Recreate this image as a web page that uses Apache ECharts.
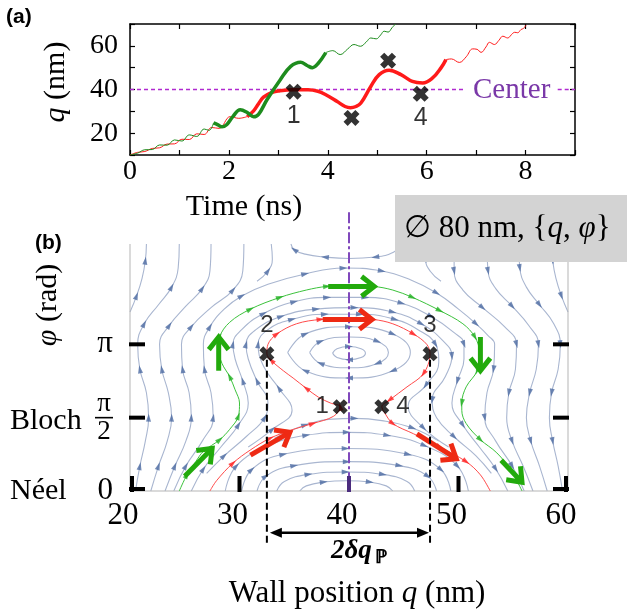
<!DOCTYPE html>
<html><head><meta charset="utf-8">
<script src="https://cdn.jsdelivr.net/npm/echarts@6/dist/echarts.min.js"></script>
<style>html,body{margin:0;padding:0;background:#fff}#c{width:627px;height:614px}</style>
</head><body><div id="c"></div>
<script>
// ================= Panel (a): time (ns) vs q (nm) =================
const xTicksA = [0, 2, 4, 6, 8];
const yTicksA = [20, 40, 60];
const centerQ = 40;
const redThinA = [[0,10.0],[0.15,11.2],[0.3,11.6],[0.45,13.0],[0.6,13.3],[0.75,15.0],[0.9,15.1],[1.05,17.2],[1.2,17.1],[1.35,19.7],[1.5,19.4],[1.65,22.6],[1.8,22.2],[2.03,27.6],[2.2,26.8],[2.37,27.6]];
const redThickA = [[2.37,27.6],[2.5,30.2],[2.6,33.5],[2.7,36.5],[2.85,38.5],[3.0,39.3],[3.3,39.9],[3.6,39.9],[3.8,39.2],[3.96,37.6],[4.19,34.5],[4.35,32.2],[4.46,31.6],[4.57,32.2],[4.67,33.8],[4.87,41.4],[5.04,46.8],[5.24,48.8],[5.48,46.8],[5.71,43.7],[5.92,43.0],[6.12,45.3],[6.29,49.9],[6.39,53.7]];
const redThin2A = [[6.39,53.7],[6.5,54.0],[6.66,52.4],[6.8,55.0],[6.93,58.6],[7.02,58.4],[7.1,57.0],[7.2,59.5],[7.27,61.6],[7.37,60.6],[7.46,62.5],[7.54,64.4],[7.64,63.6],[7.71,65.0],[7.78,66.2],[7.84,66.0],[7.91,67.5],[7.96,68.0],[8.01,69.5]];
const greenThinA = [[0,10.0],[0.15,10.8],[0.3,12.4],[0.45,12.5],[0.6,14.6],[0.75,14.5],[0.9,16.9],[1.05,16.4],[1.2,19.2],[1.35,18.5],[1.5,21.9],[1.6,21.3],[1.69,24.7]];
const greenThickA = [[1.69,24.7],[1.78,23.8],[1.86,22.9],[1.96,24.0],[2.08,27.6],[2.23,30.7],[2.38,29.3],[2.5,27.5],[2.6,28.6],[2.77,35.3],[3.04,44.5],[3.25,50.6],[3.45,52.5],[3.58,51.0],[3.69,50.0],[3.8,51.8],[3.96,56.9]];
const greenThin2A = [[3.96,56.9],[4.1,57.8],[4.25,56.0],[4.4,58.5],[4.53,60.6],[4.66,59.8],[4.78,61.8],[4.87,63.6],[4.98,63.2],[5.07,65.0],[5.14,66.7],[5.22,66.3],[5.3,68.3],[5.37,70.0]];
const centerSegA = [[0, 6.75], [8.65, 9]];
const crossesA = [[3.31,39.0],[4.48,27.0],[5.22,53.2],[5.88,38.0]];
const crossLabelsA = ['1', '', '', '4'];

// ================= Panel (b): wall position q (nm) vs phi (units of pi) =================
const xTicksB = [20, 30, 40, 50, 60];
const yTicksB = [0, 0.5, 1];
// streamlines (points in flow order)
const La = [[20.0,1.22],[20.6,1.33],[21.1,1.45],[21.4,1.57],[21.5,1.684]];
const L1 = [[20.5,0],[20.9,0.17],[21.4,0.34],[21.7,0.5],[21.5,0.67],[20.9,0.83],[20.7,1.0],[21.3,1.14],[22.6,1.27],[23.8,1.39],[24.4,1.52],[24.5,1.684]];
const L2 = [[21.9,0],[22.6,0.17],[23.4,0.34],[23.8,0.5],[23.5,0.67],[22.9,0.83],[22.7,1.0],[23.6,1.13],[25.1,1.26],[26.6,1.38],[27.3,1.5],[27.4,1.684]];
const L3 = [[23.2,0],[24.1,0.17],[25.1,0.34],[25.6,0.5],[25.4,0.67],[24.8,0.83],[24.7,1.0],[25.6,1.12],[27.4,1.25],[29.4,1.37],[30.3,1.5],[30.4,1.684]];
const L4 = [[24.0,0],[25.1,0.17],[26.6,0.34],[27.6,0.5],[27.4,0.67],[26.8,0.83],[26.7,1.0],[27.3,1.12],[28.6,1.24],[30.2,1.33],[32.6,1.41],[36.0,1.48],[39.5,1.52],[43.0,1.50],[45.6,1.44],[48.0,1.35],[50.0,1.24],[51.6,1.14],[52.7,1.06],[53.3,1.0],[53.2,0.83],[52.6,0.67],[52.4,0.5],[53.4,0.34],[54.9,0.17],[56.0,0]];
const Lt = [[31.6,1.43],[32.6,1.5],[33.0,1.58],[32.9,1.684]];
const Rt = [[47.1,1.684],[47.0,1.58],[47.4,1.5],[48.4,1.43]];
const Ra = [[58.5,1.684],[58.6,1.57],[58.9,1.45],[59.4,1.33],[60.0,1.22]];
const R1 = [[55.5,1.684],[55.6,1.52],[56.2,1.39],[57.4,1.27],[58.7,1.14],[59.3,1.0],[59.1,0.83],[58.5,0.67],[58.3,0.5],[58.6,0.34],[59.1,0.17],[59.5,0]];
const R2 = [[52.6,1.684],[52.7,1.5],[53.4,1.38],[54.9,1.26],[56.4,1.13],[57.3,1.0],[57.1,0.83],[56.5,0.67],[56.2,0.5],[56.6,0.34],[57.4,0.17],[58.1,0]];
const R3 = [[49.6,1.684],[49.6,1.5],[50.4,1.37],[52.2,1.25],[54.2,1.12],[55.3,1.0],[55.2,0.83],[54.6,0.67],[54.4,0.5],[54.9,0.34],[55.9,0.17],[56.8,0]];
const O1 = [[25.6,0],[26.7,0.15],[28.3,0.3],[29.9,0.45],[30.8,0.6],[30.3,0.75],[29.6,0.9],[29.4,1.0],[30.2,1.1],[32.2,1.21],[35.0,1.29],[38.0,1.32],[41.5,1.32],[44.8,1.28],[47.5,1.19],[49.6,1.08],[50.5,1.0],[50.5,0.9],[49.9,0.75],[49.4,0.6],[50.4,0.45],[51.9,0.3],[53.4,0.15],[54.5,0]];
const O2 = [[27.0,0.12],[28.6,0.24],[30.6,0.37],[32.3,0.5],[32.6,0.6],[31.6,0.75],[30.8,0.9],[30.6,1.0],[31.5,1.1],[33.8,1.19],[37.0,1.24],[40.5,1.25],[44.0,1.22],[46.6,1.14],[48.5,1.03],[49.4,0.92],[48.8,0.78],[47.6,0.62],[48.0,0.5],[49.6,0.37],[51.6,0.24],[53.0,0.12]];
const O3 = [[30.8,0.3],[33.0,0.42],[34.8,0.55],[33.6,0.7],[32.2,0.85],[31.7,1.0],[32.6,1.1],[34.8,1.17],[37.8,1.205],[41.0,1.205],[44.2,1.17],[46.3,1.1],[47.9,1.0],[48.2,0.88],[47.0,0.72],[45.4,0.58],[46.8,0.43],[49.1,0.3]];
const TU = [[44.7,1.684],[44.1,1.63],[42.4,1.595],[40.0,1.585],[37.8,1.595],[36.0,1.615],[35.0,1.645],[34.7,1.684]];
const B1 = [[35.5,0],[36.1,0.035],[37.7,0.061],[39.8,0.07],[41.9,0.061],[43.4,0.035],[44.0,0]];
const B2 = [[33.4,0],[34.1,0.065],[36.3,0.113],[39.7,0.13],[43.1,0.113],[45.3,0.065],[46.0,0]];
const B3 = [[31.6,0],[32.4,0.10],[35.0,0.173],[39.8,0.20],[44.6,0.173],[47.2,0.10],[48.0,0]];
const B4 = [[30.2,0],[31.1,0.145],[34.0,0.25],[39.7,0.29],[45.4,0.25],[48.4,0.145],[49.3,0]];
const B5 = [[28.7,0],[29.7,0.17],[32.7,0.31],[36.1,0.38],[39.8,0.40],[43.5,0.38],[46.9,0.31],[49.9,0.17],[50.9,0]];
const B6 = [[33.2,0.36],[36.0,0.45],[38.5,0.49],[40.5,0.495],[43.0,0.48],[45.8,0.43],[48.2,0.34]];
const Ring1 = [[38.5,0.94],[38.9,0.97],[40.0,0.985],[41.1,0.97],[41.5,0.94],[41.1,0.91],[40.0,0.895],[38.9,0.91],[38.5,0.94]];
const Ring2 = [[36.4,0.945],[37.4,1.02],[40.0,1.05],[42.6,1.02],[43.6,0.945],[42.6,0.87],[40.0,0.84],[37.4,0.87],[36.4,0.945]];
const Ring3 = [[34.4,0.945],[36.0,1.07],[40.0,1.12],[44.0,1.07],[45.6,0.945],[44.0,0.82],[40.0,0.77],[36.0,0.82],[34.4,0.945]];
const streamLines = [La, L1, L2, L3, L4, Lt, Rt, Ra, R1, R2, R3, O1, O2, O3, TU, B1, B2, B3, B4, B5, B6, Ring1, Ring2, Ring3];

// trajectories
const redB = [[27.3,0],[27.9,0.07],[29.4,0.19],[31.0,0.28],[32.8,0.36],[34.9,0.42],[36.7,0.46],[38.6,0.51],[39.2,0.575],[38.3,0.6],[37.2,0.64],[36.1,0.7],[34.9,0.77],[34.0,0.82],[32.9,0.89],[32.5,0.935],[32.6,1.0],[33.4,1.07],[35.2,1.14],[37.4,1.17],[40.0,1.18],[42.2,1.17],[44.0,1.14],[45.9,1.07],[47.1,1.0],[47.4,0.935],[46.8,0.8],[45.3,0.71],[43.7,0.62],[43.0,0.575],[43.2,0.54],[44.0,0.46],[45.9,0.39],[48.3,0.30],[50.7,0.2],[52.0,0.11],[52.9,0]];
const greenB = [[24.5,0],[25.2,0.11],[26.0,0.2],[26.7,0.27],[28.2,0.35],[29.1,0.42],[29.9,0.51],[30.0,0.6],[29.6,0.69],[29.1,0.78],[28.4,0.87],[28.1,0.96],[28.2,1.05],[29.1,1.15],[31.0,1.24],[33.7,1.32],[36.1,1.37],[38.0,1.395],[40.0,1.40],[42.2,1.395],[44.0,1.37],[45.8,1.32],[48.3,1.23],[50.4,1.14],[51.5,1.05],[51.9,0.95],[51.7,0.82],[50.7,0.71],[50.3,0.6],[50.3,0.55],[50.7,0.46],[52.0,0.35],[53.5,0.26],[54.8,0.14],[55.8,0]];
// big arrows [q1, p1, q2, p2]
const bigArrowsGreen = [[25.0,0.10,27.5,0.29],[28.1,0.82,28.1,1.05],[38.1,1.395,42.3,1.395],[52.0,1.05,52.0,0.82],[53.9,0.21,55.8,0.06]];
const bigArrowsRed = [[31.0,0.245,34.6,0.40],[37.6,1.17,42.1,1.17],[46.2,0.39,49.8,0.22]];
const crossesB = [[39.2,0.575],[32.5,0.935],[47.4,0.935],[43.0,0.575]];
const crossLabelsB = ['1', '2', '3', '4'];
const dashQ = [32.5, 47.4];
const dashTopP = 0.935, dashBottomP = -0.37, spanArrowP = -0.284;
const centerLineTopP = 1.9;

// ================= chart =================
const SERIF = "'Liberation Serif','Times New Roman',serif";
const SANS = "'Liberation Sans',Arial,sans-serif";
const chart = echarts.init(document.getElementById('c'), null, {renderer: 'canvas'});
const CROSS = 'path://M0,2.6 L2.6,0 L5,2.4 L7.4,0 L10,2.6 L7.6,5 L10,7.4 L7.4,10 L5,7.6 L2.6,10 L0,7.4 L2.4,5 Z';
const STREAM_COLOR = '#a9b6d0', STREAM_ARROW = '#4e6ca3';

const axA = {axisLine: {onZero: false, lineStyle: {color: '#000', width: 1.5}}, axisTick: {inside: true, length: 5, lineStyle: {color: '#000', width: 1.2}}, splitLine: {show: false}};

function lineSer(data, color, width, z, smooth, ax) {
  return {type: 'line', xAxisIndex: ax, yAxisIndex: ax, data: data, smooth: smooth, symbol: 'none', showSymbol: false,
    lineStyle: {color: color, width: width}, silent: true, z: z, animation: false};
}

function bigArrowRender(color) {
  return function (params, api) {
    const a = api.coord([api.value(0), api.value(1)]);
    const b = api.coord([api.value(2), api.value(3)]);
    const dx = b[0] - a[0], dy = b[1] - a[1], L = Math.hypot(dx, dy);
    const bx = -dx / L, by = -dy / L, hl = 16, ang = 38 * Math.PI / 180;
    const c = Math.cos(ang), s = Math.sin(ang);
    const l1 = [b[0] + hl * (bx * c - by * s), b[1] + hl * (bx * s + by * c)];
    const l2 = [b[0] + hl * (bx * c + by * s), b[1] + hl * (-bx * s + by * c)];
    return {type: 'group', children: [
      {type: 'polyline', shape: {points: [a, b]}, style: {stroke: color, lineWidth: 5, fill: null}},
      {type: 'polyline', shape: {points: [l1, b, l2]}, style: {stroke: color, lineWidth: 5, fill: null, lineJoin: 'miter'}}
    ]};
  };
}

const series = [];
// ---- panel (a)
series.push(lineSer(redThinA, '#ff1a1a', 1, 3, 0.4, 0));
series.push(lineSer(redThickA, '#ff1a1a', 3.5, 3, 0.4, 0));
series.push(lineSer(redThin2A, '#ff1a1a', 1, 3, 0.4, 0));
series.push(lineSer(greenThinA, '#1e8c1e', 1, 4, 0.4, 0));
series.push(lineSer(greenThickA, '#1e8c1e', 3.5, 4, 0.4, 0));
series.push(lineSer(greenThin2A, '#1e8c1e', 1, 4, 0.4, 0));
centerSegA.forEach(function (seg) {
  const s = lineSer([[seg[0], centerQ], [seg[1], centerQ]], '#b02ad0', 1.4, 2, false, 0);
  s.lineStyle.type = [4, 3];
  series.push(s);
});
series.push({type: 'scatter', xAxisIndex: 0, yAxisIndex: 0, symbol: CROSS, symbolSize: 16, z: 6, silent: true,
  itemStyle: {color: '#000'},
  data: crossesA.map(function (p, i) { return {value: p, label: {show: !!crossLabelsA[i], formatter: crossLabelsA[i], position: 'bottom', distance: 4}}; }),
  label: {fontFamily: SANS, fontSize: 25, color: '#000'}});

// ---- panel (b)
streamLines.forEach(function (l) { series.push(lineSer(l, STREAM_COLOR, 1.1, 1, 0.45, 2)); });
series.push(lineSer(redB, '#ff4a4a', 1, 3, 0.35, 2));
series.push(lineSer(greenB, '#3cc23c', 1, 3, 0.35, 2));
// frame (gray)
series.push({type: 'custom', xAxisIndex: 2, yAxisIndex: 2, clip: false, silent: true, z: 2, data: [[0]],
  renderItem: function (params, api) {
    const bl = api.coord([20, 0]), tl = api.coord([20, 1.684]), br = api.coord([60, 0]), tr = api.coord([60, 1.684]);
    return {type: 'polyline', shape: {points: [tl, bl, br, tr]}, style: {stroke: '#b5b5b5', lineWidth: 1, fill: null}};
  }});
// purple center line
series.push({type: 'custom', xAxisIndex: 2, yAxisIndex: 2, clip: false, silent: true, z: 5, data: [[centerQ]],
  renderItem: function (params, api) {
    const a = api.coord([api.value(0), centerLineTopP]), b = api.coord([api.value(0), 0]);
    return {type: 'line', shape: {x1: a[0], y1: a[1], x2: b[0], y2: b[1]}, style: {stroke: '#8048bc', lineWidth: 2, lineDash: [11, 3, 3, 3]}};
  }});
// big arrows
series.push({type: 'custom', xAxisIndex: 2, yAxisIndex: 2, clip: false, silent: true, z: 6, data: bigArrowsGreen, renderItem: bigArrowRender('#22aa0c')});
series.push({type: 'custom', xAxisIndex: 2, yAxisIndex: 2, clip: false, silent: true, z: 6, data: bigArrowsRed, renderItem: bigArrowRender('#ee2a14')});
// thick ticks
series.push({type: 'custom', xAxisIndex: 2, yAxisIndex: 2, clip: false, silent: true, z: 6, data: yTicksB.map(function (v) { return [20, v]; }),
  renderItem: function (params, api) {
    const p = api.value(1), a = api.coord([20, p]), b = api.coord([60, p]);
    return {type: 'group', children: [
      {type: 'line', shape: {x1: a[0] - 1, y1: a[1] - (p === 0 ? 2 : 0), x2: a[0] + 15, y2: a[1] - (p === 0 ? 2 : 0)}, style: {stroke: '#000', lineWidth: 4}},
      {type: 'line', shape: {x1: b[0] + 1, y1: b[1] - (p === 0 ? 2 : 0), x2: b[0] - 15, y2: b[1] - (p === 0 ? 2 : 0)}, style: {stroke: '#000', lineWidth: 4}}
    ]};
  }});
series.push({type: 'custom', xAxisIndex: 2, yAxisIndex: 2, clip: false, silent: true, z: 6, data: xTicksB.map(function (v) { return [v, 0]; }),
  renderItem: function (params, api) {
    const q = api.value(0), a = api.coord([q, 0]);
    const off = q === 20 ? 2 : (q === 60 ? -2 : 0);
    return {type: 'line', shape: {x1: a[0] + off, y1: a[1] + 1, x2: a[0] + off, y2: a[1] - 15}, style: {stroke: q === centerQ ? '#4b2c7e' : '#000', lineWidth: 4}};
  }});
// dashed verticals + span arrow
series.push({type: 'custom', xAxisIndex: 2, yAxisIndex: 2, clip: false, silent: true, z: 6, data: [[dashQ[0], dashQ[1]]],
  renderItem: function (params, api) {
    const q1 = api.value(0), q2 = api.value(1);
    const a1 = api.coord([q1, dashTopP]), b1 = api.coord([q1, dashBottomP]);
    const a2 = api.coord([q2, dashTopP]), b2 = api.coord([q2, dashBottomP]);
    const s1 = api.coord([q1, spanArrowP]), s2 = api.coord([q2, spanArrowP]);
    const y = s1[1], x1 = s1[0] + 3, x2 = s2[0] - 1, hl = 12, hw = 5;
    return {type: 'group', children: [
      {type: 'line', shape: {x1: a1[0], y1: a1[1] + 6, x2: b1[0], y2: b1[1]}, style: {stroke: '#000', lineWidth: 2, lineDash: [7, 4]}},
      {type: 'line', shape: {x1: a2[0], y1: a2[1] + 6, x2: b2[0], y2: b2[1]}, style: {stroke: '#000', lineWidth: 2, lineDash: [7, 4]}},
      {type: 'line', shape: {x1: x1 + hl - 2, y1: y, x2: x2 - hl + 2, y2: y}, style: {stroke: '#000', lineWidth: 2.5}},
      {type: 'polygon', shape: {points: [[x1, y], [x1 + hl, y - hw], [x1 + hl, y + hw]]}, style: {fill: '#000'}},
      {type: 'polygon', shape: {points: [[x2, y], [x2 - hl, y - hw], [x2 - hl, y + hw]]}, style: {fill: '#000'}}
    ]};
  }});
const labelPos = ['left', 'top', 'top', 'right'];
const labelDist = [4, 9, 9, 7];
series.push({type: 'scatter', xAxisIndex: 2, yAxisIndex: 2, symbol: CROSS, symbolSize: 15, z: 8, silent: true,
  itemStyle: {color: '#000'},
  data: crossesB.map(function (p, i) { return {value: p, label: {show: true, formatter: crossLabelsB[i], position: labelPos[i], distance: labelDist[i]}}; }),
  label: {fontFamily: SANS, fontSize: 24, color: '#000'}});

const option = {
  animation: false,
  backgroundColor: '#fff',
  grid: [
    {left: 130, top: 24, width: 445, height: 131, show: false},
    {left: 130, top: 244, width: 438, height: 247, show: false}
  ],
  xAxis: [
    Object.assign({gridIndex: 0, type: 'value', min: 0, max: 9, interval: 1, position: 'bottom',
      axisLabel: {formatter: function (v) { return xTicksA.indexOf(v) >= 0 ? String(v) : ''; }, fontFamily: SERIF, fontSize: 28, color: '#000', margin: 3}}, axA),
    Object.assign({gridIndex: 0, type: 'value', min: 0, max: 9, interval: 1, position: 'top', axisLabel: {show: false}}, axA),
    {gridIndex: 1, type: 'value', min: 20, max: 60, interval: 10, axisLine: {show: false}, axisTick: {show: false}, splitLine: {show: false},
      axisLabel: {fontFamily: SERIF, fontSize: 31, color: '#000', margin: 9,
        formatter: function (v) { return xTicksB.indexOf(v) >= 0 ? '{s|' + v + '}' : ''; },
        rich: {s: {fontFamily: SERIF, fontSize: 31, color: '#000', padding: [0, 14, 0, 0]}}}}
  ],
  yAxis: [
    Object.assign({gridIndex: 0, type: 'value', min: 10, max: 70, interval: 10,
      axisLabel: {formatter: function (v) { return yTicksA.indexOf(v) >= 0 ? String(v) : ''; }, fontFamily: SERIF, fontSize: 28, color: '#000', margin: 12}}, axA),
    Object.assign({gridIndex: 0, type: 'value', min: 10, max: 70, interval: 10, position: 'right', axisLabel: {show: false}}, axA),
    {gridIndex: 1, type: 'value', min: 0, max: 1.684, interval: 0.5, axisLine: {show: false}, axisTick: {show: false}, splitLine: {show: false},
      axisLabel: {fontFamily: SERIF, fontSize: 31, color: '#000', margin: 17,
        formatter: function (v) {
          if (v === 0) return '0';
          if (v === 0.5) return '{n|π}\n{bar|\u00a0}\n{n|2}';
          if (v === 1) return 'π';
          return '';
        },
        rich: {n: {fontFamily: SERIF, fontSize: 27, lineHeight: 23, color: '#000', align: 'center', width: 18},
               bar: {width: 18, height: 1.6, lineHeight: 5, backgroundColor: '#000', fontSize: 2}}}}
  ],
  graphic: [
    {type: 'text', x: 6, y: 17, z: 100, style: {text: '(a)', font: 'bold 21px ' + SANS, fill: '#000', align: 'left', verticalAlign: 'middle', textAlign: 'left', textVerticalAlign: 'middle'}},
    {type: 'text', x: 56, y: 82, rotation: Math.PI / 2, z: 100, style: {text: '{i|q} (nm)', font: '30px ' + SERIF, fill: '#000', align: 'center', verticalAlign: 'middle', textAlign: 'center', textVerticalAlign: 'middle',
      rich: {i: {font: 'italic 30px ' + SERIF, fill: '#000'}}}},
    {type: 'text', x: 244, y: 207, z: 100, style: {text: 'Time (ns)', font: '30px ' + SERIF, fill: '#000', align: 'center', verticalAlign: 'middle', textAlign: 'center', textVerticalAlign: 'middle'}},
    {type: 'text', x: 473, y: 90, z: 100, style: {text: 'Center', font: '29px ' + SERIF, fill: '#7a38a8', align: 'left', verticalAlign: 'middle', textAlign: 'left', textVerticalAlign: 'middle'}},
    {type: 'rect', x: 395, y: 195, z: 100, shape: {width: 232, height: 67}, style: {fill: '#d3d3d3'}},
    {type: 'text', x: 404, y: 229, z: 101, style: {text: '\u2205 80 nm, {{i|q}, {i|φ}}', font: '31px ' + SERIF, fill: '#000', align: 'left', verticalAlign: 'middle', textAlign: 'left', textVerticalAlign: 'middle',
      rich: {i: {font: 'italic 31px ' + SERIF, fill: '#000'}}}},
    {type: 'text', x: 35, y: 243, z: 100, style: {text: '(b)', font: 'bold 21px ' + SANS, fill: '#000', align: 'left', verticalAlign: 'middle', textAlign: 'left', textVerticalAlign: 'middle'}},
    {type: 'text', x: 48, y: 305, rotation: Math.PI / 2, z: 100, style: {text: '{i|φ} (rad)', font: '30px ' + SERIF, fill: '#000', align: 'center', verticalAlign: 'middle', textAlign: 'center', textVerticalAlign: 'middle',
      rich: {i: {font: 'italic 30px ' + SERIF, fill: '#000'}}}},
    {type: 'text', x: 10, y: 421, z: 100, style: {text: 'Bloch', font: '30px ' + SERIF, fill: '#000', align: 'left', verticalAlign: 'middle', textAlign: 'left', textVerticalAlign: 'middle'}},
    {type: 'text', x: 10, y: 491, z: 100, style: {text: 'Néel', font: '30px ' + SERIF, fill: '#000', align: 'left', verticalAlign: 'middle', textAlign: 'left', textVerticalAlign: 'middle'}},
    {type: 'text', x: 331, y: 551, z: 100, style: {text: '2δq', font: 'italic bold 27px ' + SERIF, fill: '#000', align: 'left', verticalAlign: 'middle', textAlign: 'left', textVerticalAlign: 'middle'}},
    {type: 'text', x: 375, y: 558, z: 100, style: {text: 'ℙ', font: 'bold 19px ' + SERIF, fill: '#000', align: 'left', verticalAlign: 'middle', textAlign: 'left', textVerticalAlign: 'middle'}},
    {type: 'text', x: 357, y: 594, z: 100, style: {text: 'Wall position {i|q} (nm)', font: '31px ' + SERIF, fill: '#000', align: 'center', verticalAlign: 'middle', textAlign: 'center', textVerticalAlign: 'middle',
      rich: {i: {font: 'italic 31px ' + SERIF, fill: '#000'}}}}
  ],
  series: series
};
chart.setOption(option);

// arrowheads along streamlines, placed on data points roughly every `spacing` px
function buildArrows(lines, spacing, first) {
  const out = [];
  lines.forEach(function (line) {
    const px = line.map(function (pt) { return chart.convertToPixel({gridIndex: 1}, pt); });
    let acc = spacing - first;
    for (let i = 1; i < px.length - 1; i++) {
      acc += Math.hypot(px[i][0] - px[i - 1][0], px[i][1] - px[i - 1][1]);
      if (acc >= spacing) {
        const dx = px[i + 1][0] - px[i - 1][0], dy = px[i + 1][1] - px[i - 1][1];
        out.push({value: line[i], symbolRotate: Math.atan2(-dy, dx) * 180 / Math.PI - 90});
        acc = 0;
      }
    }
  });
  return out;
}
function arrowSeries(data, color, z) {
  return {type: 'scatter', xAxisIndex: 2, yAxisIndex: 2, symbol: 'triangle', symbolSize: [5, 8], silent: true, z: z,
    itemStyle: {color: color}, data: data};
}
option.series.push(arrowSeries(buildArrows(streamLines, 30, 14), STREAM_ARROW, 2));
option.series.push(arrowSeries(buildArrows([redB], 30, 14), '#ff2020', 4));
option.series.push(arrowSeries(buildArrows([greenB], 30, 14), '#22b022', 4));
chart.setOption(option, true);
</script>
</body></html>
